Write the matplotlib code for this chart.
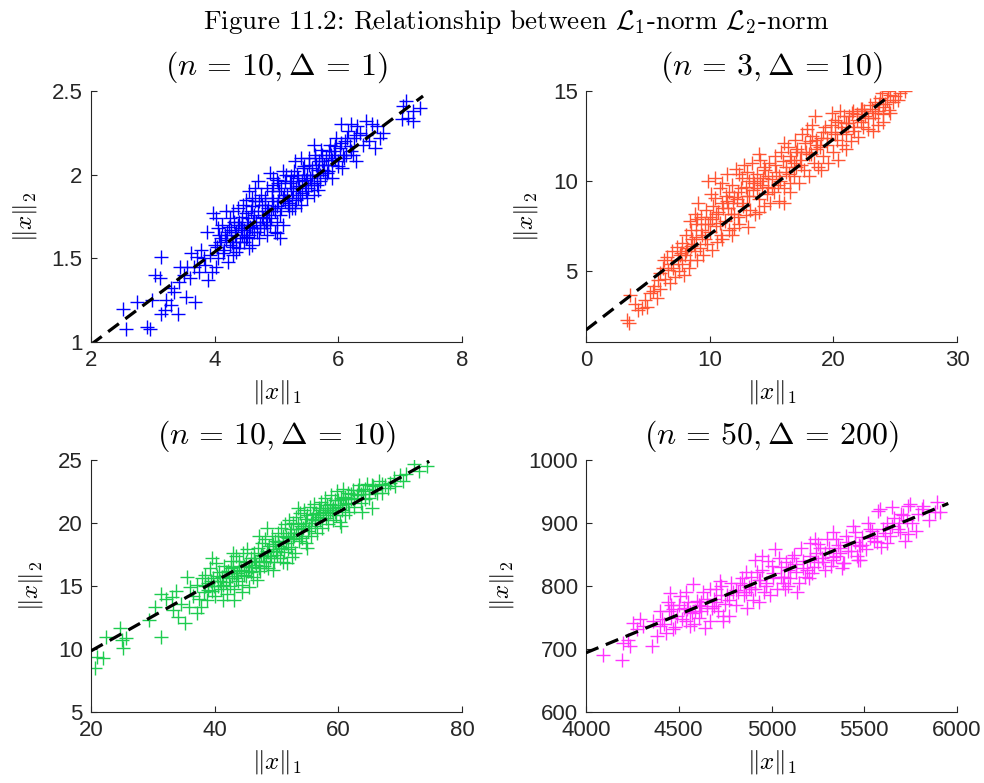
import matplotlib
matplotlib.use("Agg")
import matplotlib.pyplot as plt
import numpy as np

plt.rcParams['mathtext.fontset'] = 'cm'
plt.rcParams['font.family'] = ['Liberation Sans', 'DejaVu Sans']

# ---------------- data ----------------
p1_x = [2.51,2.56,2.90,2.95,2.74,2.98,3.04,3.12,3.14,3.14,3.19,3.41,3.22,3.29,3.42,3.54,3.68,3.35,3.30,3.44,3.55,3.66,3.50,3.61,3.72,3.82,3.60,3.75,3.90,3.87,3.85,3.95,3.78,3.92,
        4.0,4.05,4.1,4.12,4.15,4.2,4.22,4.25,4.28,4.3,4.05,4.18,4.02,4.27,
        4.32,4.35,4.38,4.4,4.42,4.45,4.48,4.5,4.52,4.55,4.58,4.6,4.35,4.46,4.56,4.4,
        4.62,4.65,4.68,4.7,4.72,4.75,4.78,4.8,4.82,4.85,4.88,4.9,4.92,4.95,4.98,4.7,4.65,4.85,4.95,
        5.02,5.05,5.08,5.1,5.12,5.15,5.18,5.2,5.22,5.25,5.28,5.3,5.32,5.35,5.38,5.1,5.3,5.4,
        5.42,5.45,5.48,5.5,5.52,5.55,5.58,5.6,5.62,5.65,5.68,5.7,5.72,5.75,5.78,5.6,5.5,
        5.8,5.83,5.86,5.9,5.93,5.96,6.0,6.03,6.06,6.1,6.13,6.16,6.2,6.25,6.28,6.3,6.35,5.9,6.05,6.2,
        6.4,6.45,6.5,6.55,6.62,6.73,6.6,6.68,6.45,7.03,7.05,7.13,7.21,7.32,7.21,7.1,
        4.08,4.16,4.24,4.34,4.44,4.54,4.64,4.74,4.84,4.94,5.04,5.14,5.24,5.34,5.44,5.54,5.64,5.74,5.84,5.94,4.3,4.5,4.76,5.0,5.26,5.46,5.66,5.88,6.08,4.6,
        3.98,4.02,4.9,4.95,5.0,5.67,5.05,4.55,
        4.03,4.07,4.13,4.19,4.23,4.29,4.33,4.37,4.41,4.47,4.51,4.53,4.57,4.61,4.63,4.67,4.71,4.73,4.77,4.81,4.83,4.87,4.91,4.93,4.97,
        5.01,5.03,5.07,5.11,5.13,5.17,5.21,5.23,5.27,5.31,5.33,5.37,5.41,5.43,5.47,5.51,5.53,5.57,5.61,5.63,5.67,5.71,5.73,5.77,5.81,
        5.85,5.89,5.95,5.99,6.04,6.09,6.14,6.19,6.24,6.29,4.45,4.85,5.25,4.6,5.0,5.4]
p1_y = [1.20,1.08,1.09,1.08,1.24,1.25,1.40,1.38,1.51,1.17,1.19,1.17,1.25,1.32,1.36,1.27,1.24,1.30,1.22,1.45,1.45,1.45,1.40,1.53,1.51,1.50,1.38,1.42,1.37,1.66,1.46,1.42,1.55,1.52,
        1.58,1.50,1.62,1.70,1.55,1.66,1.48,1.74,1.60,1.52,1.68,1.78,1.45,1.67,
        1.72,1.62,1.80,1.56,1.68,1.75,1.60,1.85,1.70,1.64,1.78,1.58,1.54,1.82,1.90,1.72,
        1.72,1.84,1.66,1.78,1.62,1.88,1.74,1.68,1.82,1.92,1.76,1.70,1.86,1.80,1.66,1.96,1.92,1.64,1.94,
        1.84,1.76,1.92,1.70,1.88,2.00,1.82,1.78,1.95,1.86,2.02,1.80,1.92,1.98,1.88,2.02,2.08,1.82,
        1.96,2.05,1.90,2.00,2.10,1.94,2.04,1.88,2.12,2.00,2.08,1.96,2.15,2.03,1.98,2.18,1.86,
        2.10,2.02,2.18,2.06,2.14,2.22,2.08,2.16,2.04,2.20,2.12,2.26,2.14,2.22,2.08,2.29,2.25,1.98,2.30,2.30,
        2.18,2.24,2.20,2.30,2.29,2.25,2.16,2.22,2.32,2.33,2.41,2.34,2.38,2.40,2.32,2.44,
        1.60,1.64,1.58,1.66,1.64,1.74,1.76,1.70,1.78,1.84,1.90,1.84,1.92,1.86,2.00,1.98,2.06,2.08,2.06,2.10,1.78,1.62,1.82,1.72,1.96,1.94,1.94,2.12,2.12,1.68,
        1.77,1.74,2.01,1.98,1.65,1.91,1.62,1.56,
        1.57,1.64,1.53,1.61,1.69,1.57,1.64,1.70,1.60,1.67,1.77,1.63,1.69,1.81,1.66,1.72,1.84,1.68,1.75,1.86,1.72,1.80,1.74,1.90,1.78,
        1.81,1.95,1.80,1.86,1.96,1.88,1.83,1.99,1.90,1.85,2.00,1.93,1.89,2.04,1.97,1.92,2.06,2.00,1.95,2.10,2.03,2.00,2.12,2.06,2.01,
        2.14,2.09,2.17,2.05,2.19,2.10,2.22,2.17,2.12,2.24,1.70,1.70,1.80,1.86,1.97,2.10]
p1_line_x = [2.0, 7.37]
p1_line_y = [0.985, 2.47]

p2_x = [3.29,3.45,3.56,4.23,4.50,4.0,4.77,4.9,
        5.17,5.72,5.98,6.2,6.8,7.2,6.52,6.93,5.5,6.0,5.8,6.4,6.6,5.4,6.3,6.9,
        7.33,7.74,7.5,7.8,8.0,8.2,8.4,8.6,8.8,7.6,8.1,8.5,8.9,7.9,8.3,9.0,8.7,9.08,8.8,8.4,
        9.2,9.4,9.5,9.6,9.8,10.0,10.0,10.2,10.3,10.43,10.5,10.6,10.7,10.8,10.9,11.0,9.7,10.1,9.9,10.4,11.0,9.3,
        11.2,11.3,11.4,11.5,11.6,11.8,11.8,12.0,12.1,12.2,12.4,12.5,12.6,12.7,12.8,13.0,13.1,12.3,11.6,12.9,11.9,12.4,
        13.2,13.3,13.4,13.5,13.7,13.8,14.0,14.1,14.2,14.4,14.5,14.6,14.8,14.9,15.0,13.6,14.3,14.7,
        15.2,15.3,15.4,15.6,15.7,15.8,16.0,16.0,16.2,16.3,16.5,16.6,16.8,16.9,17.0,15.5,16.4,17.0,
        17.2,17.3,17.5,17.6,17.8,18.0,18.1,18.3,18.4,18.5,18.6,18.8,19.0,19.0,17.9,18.2,18.7,17.4,
        19.2,19.3,19.5,19.6,19.8,20.0,20.1,20.3,20.4,20.6,20.7,20.9,21.0,21.0,19.9,20.5,
        21.2,21.4,21.5,21.7,21.9,22.0,22.2,22.4,22.6,22.8,23.0,21.6,22.3,
        23.2,23.4,23.6,23.8,24.0,24.2,24.5,24.6,24.8,25.0,25.2,25.4,25.8,24.4,23.9,23.2,23.6,24.0,24.6,
        7.0,7.4,7.7,8.1,8.5,8.9,9.3,9.6,9.9,10.2,10.5,10.8,11.1,11.4,11.7,12.0,12.3,12.6,12.9,13.2,13.5,13.8,14.1,14.4,14.7,
        15.0,15.3,15.6,15.9,16.2,16.5,16.8,17.1,17.4,17.7,18.0,18.3,18.6,18.9,19.2,19.5,19.8,20.1,20.4,20.7,21.0,21.3,21.6,21.9,22.2,
        22.5,22.8,23.1,23.4,23.7,24.0,24.3,9.0,11.0,13.0,14.0,16.0,12.0,14.0,16.5]
p2_y = [2.30,2.15,3.69,2.86,2.95,3.2,3.41,3.0,
        3.78,3.50,4.89,5.2,4.36,4.7,5.8,6.1,4.2,4.0,4.5,4.6,5.1,3.9,5.6,5.4,
        6.36,6.55,5.0,5.4,5.9,6.3,5.6,6.8,6.1,5.9,7.0,7.3,7.6,4.8,5.2,5.6,6.5,8.77,8.2,7.8,
        6.3,7.0,5.9,7.6,6.5,7.2,8.0,6.2,8.6,9.04,7.5,6.6,8.3,9.6,7.0,8.8,8.4,9.3,10.0,10.2,6.8,8.0,
        7.8,9.2,10.4,8.5,7.3,7.0,9.8,8.2,10.7,9.0,7.6,9.6,10.2,8.6,10.9,9.2,7.47,8.0,9.4,8.1,8.8,10.4,
        10.0,8.4,11.0,9.5,8.2,10.4,9.0,11.2,9.8,8.6,10.6,9.3,11.0,8.8,10.1,9.9,10.2,9.7,
        9.4,11.4,10.5,8.9,10.0,11.6,9.6,8.77,10.8,11.9,9.9,11.2,10.3,12.3,10.8,9.8,10.4,11.6,
        9.9,11.2,12.6,10.6,11.6,10.3,12.2,13.1,11.0,13.6,11.8,10.8,12.4,10.6,12.9,11.5,12.0,11.6,
        11.4,13.0,12.0,11.0,12.7,11.6,13.4,12.3,11.2,13.0,12.0,13.6,11.8,12.6,13.8,13.9,
        13.2,12.2,13.8,12.8,13.4,12.45,14.0,13.0,13.6,12.9,14.2,13.9,14.0,
        13.5,14.4,13.9,14.6,13.7,14.3,13.93,14.8,14.4,14.7,14.5,14.9,15.0,15.0,14.9,12.8,13.1,13.3,13.8,
        5.2,5.6,6.0,6.1,6.4,6.9,7.3,6.8,7.6,7.9,8.2,7.7,8.5,8.9,8.2,9.1,9.4,8.8,9.7,9.2,10.2,9.6,10.0,10.8,10.3,
        9.6,10.9,10.3,11.1,10.5,11.4,11.0,11.8,10.9,12.1,11.5,12.5,12.3,11.9,12.7,12.4,13.1,12.6,13.3,12.7,13.2,13.6,13.0,13.7,13.3,
        13.9,13.5,14.0,13.8,14.3,14.1,14.5,7.9,9.9,10.5,11.5,12.1,7.4,8.3,9.4]
p2_line_x = [0.0, 24.6]
p2_line_y = [1.75, 14.76]

p3_x = [20.65,20.9,22.0,22.5,25.0,25.2,24.7,25.6,29.3,31.4,30.4,32.2,31.4,33.1,33.3,34.1,35.2,37.1,35.5,36.0,37.1,34.5,35.8,36.5,33.8,37.5,38.0,37.8,
        38.2,38.5,38.8,39.0,39.3,39.5,39.8,40.0,40.2,40.5,40.7,41.0,41.2,41.5,41.8,42.0,39.6,41.3,
        42.2,42.4,42.6,42.8,43.0,43.2,43.4,43.6,43.8,44.0,44.2,44.4,44.6,44.8,45.0,45.2,45.4,45.6,45.8,46.0,43.1,44.5,42.9,
        46.2,46.4,46.6,46.8,47.0,47.2,47.4,47.6,47.8,48.0,48.2,48.4,48.6,48.8,49.0,49.2,49.4,49.6,49.8,50.0,47.1,48.5,49.5,
        50.2,50.4,50.6,50.8,51.0,51.2,51.4,51.6,51.8,52.0,52.2,52.4,52.6,52.8,53.0,53.2,53.4,53.6,53.8,54.0,51.0,52.5,53.5,
        54.2,54.4,54.6,54.8,55.0,55.2,55.4,55.6,55.8,56.0,56.2,56.4,56.6,56.8,57.0,57.2,57.4,57.6,57.8,58.0,55.0,51.7,
        58.2,58.4,58.6,58.8,59.0,59.2,59.4,59.6,59.8,60.0,60.2,60.4,60.6,60.8,61.0,61.2,61.5,61.8,62.0,60.5,
        62.3,62.6,63.0,63.3,63.6,64.0,64.3,64.6,65.0,65.4,65.6,66.0,66.5,67.0,67.5,68.0,68.4,69.2,70.0,70.5,71.0,72.2,74.3,73.0,69.0,63.8,
        38.4,38.9,39.4,39.9,40.4,40.9,41.4,41.9,42.3,42.7,43.1,43.5,43.9,44.3,44.7,45.1,45.5,45.9,46.3,46.7,47.1,47.5,47.9,48.3,48.7,
        49.1,49.5,49.9,50.3,50.7,51.1,51.5,51.9,52.3,52.7,53.1,53.5,53.9,54.3,54.7,55.1,55.5,55.9,56.3,56.7,57.1,57.5,57.9,58.3,58.7,
        59.1,59.5,59.9,60.3,60.7,61.1,61.6,62.1,62.6,63.1,63.7,64.3,64.9,65.5,66.2,67.0]
p3_y = [8.47,9.4,9.26,10.98,10.71,10.05,11.64,10.9,12.3,10.98,13.36,14.0,14.4,14.15,13.1,12.56,12.04,12.83,15.74,14.95,15.08,13.6,13.3,14.2,14.6,14.0,15.6,13.3,
        14.5,15.9,13.9,15.2,16.4,14.6,15.6,14.2,16.8,15.0,16.1,14.8,15.7,16.6,15.3,14.4,17.2,13.9,
        16.2,15.0,17.0,15.8,16.5,14.8,17.4,16.0,15.4,17.0,16.3,15.1,17.6,16.6,15.8,17.9,16.2,14.9,17.2,16.5,13.9,14.5,17.6,
        15.7,17.6,16.9,15.5,18.0,17.0,16.2,18.4,17.4,16.6,18.7,17.8,16.4,18.2,17.2,19.0,17.9,16.9,18.6,17.5,19.0,19.6,16.3,
        19.2,18.2,17.2,19.6,18.6,17.7,19.9,18.9,17.9,20.2,19.2,18.1,20.0,19.0,17.6,20.5,19.5,18.6,20.8,19.8,16.9,17.3,21.2,
        18.8,21.0,20.0,18.4,20.6,19.6,21.3,19.0,20.3,21.5,19.8,20.8,19.2,21.2,20.2,21.7,19.6,20.9,22.0,20.4,18.0,16.8,
        21.4,19.9,20.9,22.2,21.0,20.2,21.8,20.6,22.5,21.3,20.1,22.0,21.0,22.7,20.6,21.6,22.4,20.9,21.9,19.8,
        22.6,21.3,22.2,23.0,21.6,22.5,21.9,23.1,22.3,21.2,22.9,22.6,23.3,22.4,23.0,22.8,23.2,22.9,23.8,23.3,23.9,24.7,24.5,24.1,23.6,20.9,
        15.0,14.7,15.4,15.0,15.8,15.4,15.1,16.1,15.6,16.4,16.0,15.6,16.6,16.2,15.9,16.9,16.5,16.1,17.2,16.7,16.4,17.5,17.0,16.9,17.7,
        17.4,18.3,17.8,18.5,18.0,19.0,18.4,18.8,19.5,18.7,19.2,19.9,19.0,19.6,20.3,19.4,20.0,20.7,20.2,20.5,21.0,20.6,21.2,20.8,21.5,
        21.2,20.9,21.8,21.4,21.9,22.1,21.5,22.3,22.0,22.6,22.3,22.7,22.0,23.0,22.4,23.1]
p3_line_x = [20.0, 74.7]
p3_line_y = [9.85, 24.9]

p4_x = [4093,4192,4201,4228,4237,4255,4291,4309,4273,4363,4381,4354,4399,4471,4453,4507,4471,4543,4615,4561,4578,4642,4740,4669,
        4400,4420,4440,4460,4480,4500,4520,4540,4560,4580,4600,4430,4550,4590,
        4610,4630,4650,4670,4690,4710,4730,4750,4770,4790,4620,4700,4760,4680,4740,
        4810,4830,4850,4870,4890,4910,4930,4950,4970,4990,4820,4880,4940,4980,4860,4900,4960,4911,4947,
        5010,5019,5030,5050,5070,5090,5110,5130,5150,5170,5190,5040,5100,5160,5080,5140,5200,5073,
        5210,5230,5250,5270,5290,5310,5330,5350,5370,5390,5378,5333,5386,5240,5300,5360,5280,5220,5207,5234,
        5410,5430,5450,5470,5477,5477,5490,5510,5530,5550,5576,5585,5570,5590,5440,5520,5600,5468,
        5620,5640,5660,5680,5693,5710,5737,5737,5747,5760,5790,5810,5818,5850,5881,5891,5908,5720,5650,5780,
        4410,4450,4490,4530,4570,4610,4650,4690,4730,4770,4810,4850,4890,4930,4970,5010,5050,5090,5130,5170,5210,5250,5290,5330,5370,
        5410,5450,5490,5530,5570,5610,5650,5690,5730,4460,4540,4620,4700,4780,4860,4920,5000,5060,5120,5180,5260,5320,5400,5460,5540,
        5620,5700,4720,4840,5100,5350]
p4_y = [691,683,710,715,704,741,747,736,731,744,720,704,736,731,789,784,763,763,768,736,803,733,752,795,
        760,740,775,750,735,770,748,790,758,740,776,725,775,760,
        750,790,765,745,780,760,800,772,752,790,775,795,785,765,745,
        770,805,785,765,815,795,775,825,805,785,790,798,810,840,822,778,790,842,848,
        812,858,795,830,815,800,845,822,805,840,825,845,830,860,838,790,812,795,
        848,830,866,845,825,860,842,875,852,836,829,885,836,852,875,865,838,820,869,874,
        870,855,885,865,864,842,878,858,890,872,919,922,880,862,895,900,890,842,
        900,880,908,890,885,912,927,882,930,900,915,922,927,905,917,933,917,872,925,888,
        748,760,752,765,757,770,780,768,786,778,794,802,795,810,800,820,815,826,835,828,842,838,852,846,860,
        855,870,865,876,870,884,895,900,905,770,745,760,775,805,790,822,832,805,850,815,860,832,880,848,888,
        868,915,808,812,812,848]
p4_line_x = [4000, 5953]
p4_line_y = [694, 931]

panels = [
    dict(x=p1_x, y=p1_y, lx=p1_line_x, ly=p1_line_y, color='#0000FF',
         title=r'$(n\,=\,10,\Delta\,=\,1)$', xlim=(2, 8), ylim=(1, 2.5),
         xticks=[2, 4, 6, 8], yticks=[1, 1.5, 2, 2.5]),
    dict(x=p2_x, y=p2_y, lx=p2_line_x, ly=p2_line_y, color='#FF5533',
         title=r'$(n\,=\,3,\Delta\,=\,10)$', xlim=(0, 30), ylim=(1.08, 15),
         xticks=[0, 10, 20, 30], yticks=[5, 10, 15]),
    dict(x=p3_x, y=p3_y, lx=p3_line_x, ly=p3_line_y, color='#1ECC4F',
         title=r'$(n\,=\,10,\Delta\,=\,10)$', xlim=(20, 80), ylim=(5, 25),
         xticks=[20, 40, 60, 80], yticks=[5, 10, 15, 20, 25]),
    dict(x=p4_x, y=p4_y, lx=p4_line_x, ly=p4_line_y, color='#FF33FF',
         title=r'$(n\,=\,50,\Delta\,=\,200)$', xlim=(4000, 6000), ylim=(600, 1000),
         xticks=[4000, 4500, 5000, 5500, 6000], yticks=[600, 700, 800, 900, 1000]),
]

fig = plt.figure(figsize=(9.84, 7.83), dpi=100)
W, H = 984.0, 783.0
boxes = [(91, 91, 462, 342), (586, 91, 957, 342), (91, 460, 462, 712), (586, 460, 957, 712)]
axc = '#262626'

for p, (l, t, r, b) in zip(panels, boxes):
    ax = fig.add_axes([l / W, 1 - b / H, (r - l) / W, (b - t) / H])
    ax.plot(p['x'], p['y'], linestyle='none', marker='+', markersize=10,
            markeredgewidth=1.0, color=p['color'], zorder=2)
    ax.plot(p['lx'], p['ly'], color='black', linewidth=2.3, dashes=(4.2, 2.5),
            solid_capstyle='butt', dash_capstyle='butt', zorder=3)
    ax.set_xlim(*p['xlim'])
    ax.set_ylim(*p['ylim'])
    ax.set_xticks(p['xticks'])
    ax.set_yticks(p['yticks'])
    ax.set_xticklabels([f'{v:g}' for v in p['xticks']])
    ax.set_yticklabels([f'{v:g}' for v in p['yticks']])
    for s in ['top', 'right']:
        ax.spines[s].set_visible(False)
    for s in ['left', 'bottom']:
        ax.spines[s].set_color(axc)
        ax.spines[s].set_linewidth(0.8)
    ax.tick_params(direction='in', length=4, width=0.8, colors=axc,
                   labelsize=16, labelcolor=axc, pad=6)
    ax.set_title(p['title'], fontsize=23, pad=12)
    ax.set_xlabel(r'$\|x\|_1$', fontsize=18, labelpad=5)
    ax.set_ylabel(r'$\|x\|_2$', fontsize=18, labelpad=9)

fig.text(516 / W, 1 - 22 / H,
         r'Figure 11.2: Relationship between $\mathcal{L}_1$-norm $\mathcal{L}_2$-norm',
         ha='center', va='center', fontsize=19.5, family='cmr10')

fig.savefig('out.png', dpi=100)
